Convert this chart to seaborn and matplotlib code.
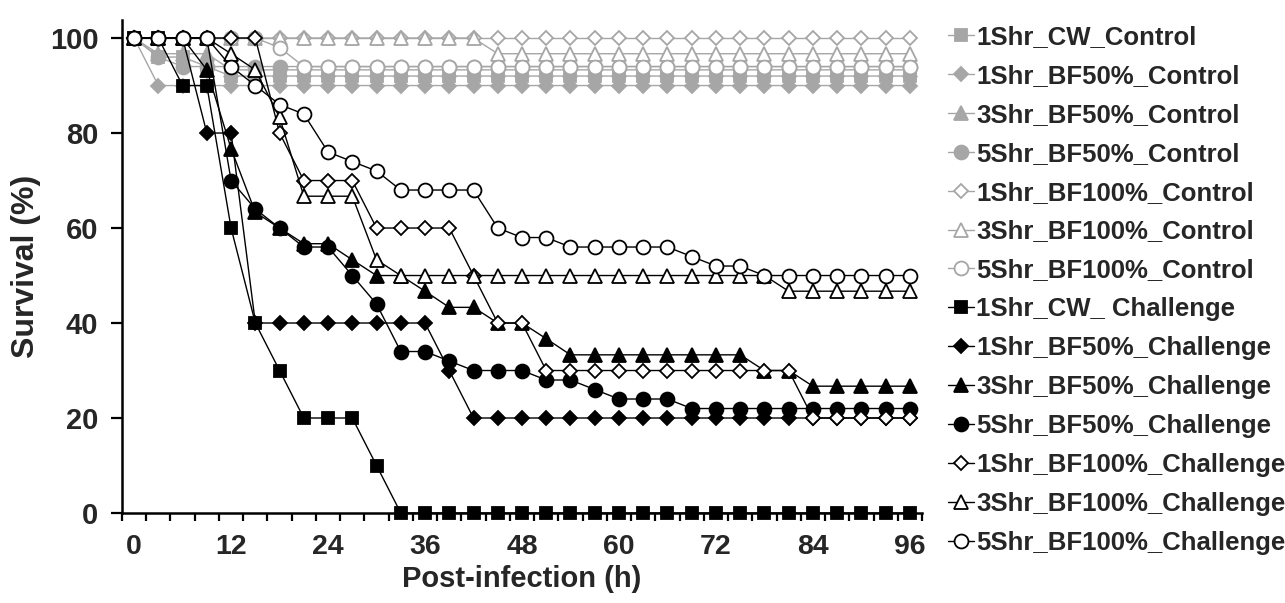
import matplotlib
matplotlib.use('Agg')
import matplotlib.pyplot as plt
import seaborn as sns
import numpy as np

# sampling times (h)
hours = [0, 3, 6, 9, 12, 15, 18, 21, 24, 27, 30, 33, 36, 39, 42, 45, 48,
         51, 54, 57, 60, 63, 66, 69, 72, 75, 78, 81, 84, 87, 90, 93, 96]

# survival (%) - control groups
cw_ctrl = [100, 96, 96, 94] + [92] * 29
bf50_1_ctrl = [100] + [90] * 32
bf50_3_ctrl = [100, 96.7, 96.7, 96.7] + [93.3] * 29
bf50_5_ctrl = [100, 96, 94] + [94] * 30
bf100_1_ctrl = [100] * 33
bf100_3_ctrl = [100] * 15 + [96.7] * 18
bf100_5_ctrl = [100] * 6 + [98] + [94] * 26

# survival (%) - challenge groups
cw_ch = [100, 100, 90, 90, 60, 40, 30, 20, 20, 20, 10] + [0] * 22
bf50_1_ch = [100, 100, 100, 80, 80, 40, 40, 40, 40, 40, 40, 40, 40, 30] + [20] * 19
bf50_3_ch = [100, 100, 100, 93.3, 76.7, 63.3, 60, 56.7, 56.7, 53.3, 50, 50, 46.7,
             43.3, 43.3, 40, 40, 36.7] + [33.3] * 8 + [30, 30] + [26.7] * 5
bf50_5_ch = [100, 100, 100, 100, 70, 64, 60, 56, 56, 50, 44, 34, 34, 32, 30, 30, 30,
             28, 28, 26, 24, 24, 24] + [22] * 10
bf100_1_ch = [100] * 6 + [80, 70, 70, 70, 60, 60, 60, 60, 50, 40, 40] + [30] * 11 + [20] * 5
bf100_3_ch = [100] * 4 + [96.7, 93.3, 83.3, 66.7, 66.7, 66.7, 53.3] + [50] * 16 + [46.7] * 6
bf100_5_ch = [100] * 4 + [94, 90, 86, 84, 76, 74, 72, 68, 68, 68, 68, 60, 58, 58,
                          56, 56, 56, 56, 56, 54, 52, 52] + [50] * 7

labels = ['1Shr_CW_Control', '1Shr_BF50%_Control', '3Shr_BF50%_Control',
          '5Shr_BF50%_Control', '1Shr_BF100%_Control', '3Shr_BF100%_Control',
          '5Shr_BF100%_Control', '1Shr_CW_ Challenge', '1Shr_BF50%_Challenge',
          '3Shr_BF50%_Challenge', '5Shr_BF50%_Challenge', '1Shr_BF100%_Challenge',
          '3Shr_BF100%_Challenge', '5Shr_BF100%_Challenge']
series = [cw_ctrl, bf50_1_ctrl, bf50_3_ctrl, bf50_5_ctrl, bf100_1_ctrl, bf100_3_ctrl,
          bf100_5_ctrl, cw_ch, bf50_1_ch, bf50_3_ch, bf50_5_ch, bf100_1_ch,
          bf100_3_ch, bf100_5_ch]

sns.set_theme(style='white')
plt.rcParams['font.family'] = ['Liberation Sans', 'DejaVu Sans']
plt.rcParams['font.weight'] = 'bold'
plt.rcParams['axes.labelweight'] = 'bold'

grey = '#A6A6A6'
shapes = ['s', 'D', '^', 'o', 'D', '^', 'o']
sizes = {'s': 9, 'D': 7.5, '^': 9.5, 'o': 10}
filled = [True, True, True, True, False, False, False]

fig = plt.figure(figsize=(12.85, 6.03), dpi=100)
ax = fig.add_axes([122 / 1285, 1 - 513 / 603, 800 / 1285, 493 / 603])

for i, (lab, vals) in enumerate(zip(labels, series)):
    grp = i // 7
    j = i % 7
    col = grey if grp == 0 else 'black'
    face = col if filled[j] else 'white'
    sns.lineplot(x=hours, y=vals, ax=ax, color=col, marker=shapes[j],
                 markersize=sizes[shapes[j]], markerfacecolor=face,
                 markeredgecolor=col, markeredgewidth=1.3,
                 linewidth=1.0, label=lab, clip_on=False, zorder=2 + i * 0.1)

handles, labs = ax.get_legend_handles_labels()
if ax.get_legend():
    ax.get_legend().remove()

ax.set_xlim(-1.5, 97.5)
ax.set_ylim(0, 103.8)
ax.set_xticks([0, 12, 24, 36, 48, 60, 72, 84, 96])
ax.set_xticks(np.arange(-1.5, 98, 3), minor=True)
ax.set_yticks([0, 20, 40, 60, 80, 100])
ax.tick_params(axis='x', which='major', length=0, pad=15, labelsize=20.5)
ax.tick_params(axis='x', which='minor', length=6, width=1.6, direction='out',
               color='black', bottom=True)
ax.tick_params(axis='y', which='major', length=8, width=1.6, direction='out',
               color='black', left=True, pad=9, labelsize=21)
for s in ['top', 'right']:
    ax.spines[s].set_visible(False)
for s in ['left', 'bottom']:
    ax.spines[s].set_color('black')
    ax.spines[s].set_linewidth(1.8)

ax.set_xlabel('Post-infection (h)', fontsize=21, labelpad=4)
ax.set_ylabel('Survival (%)', fontsize=23, labelpad=6)

fig.legend(handles, labs, loc='upper left', bbox_to_anchor=(948 / 1285, 1 - 25 / 603),
           frameon=False, prop={'weight': 'bold', 'size': 18.5}, handlelength=1.0,
           handletextpad=0.1, labelspacing=0.58, borderpad=0, borderaxespad=0)

fig.savefig('out.png', dpi=100, facecolor='white')
